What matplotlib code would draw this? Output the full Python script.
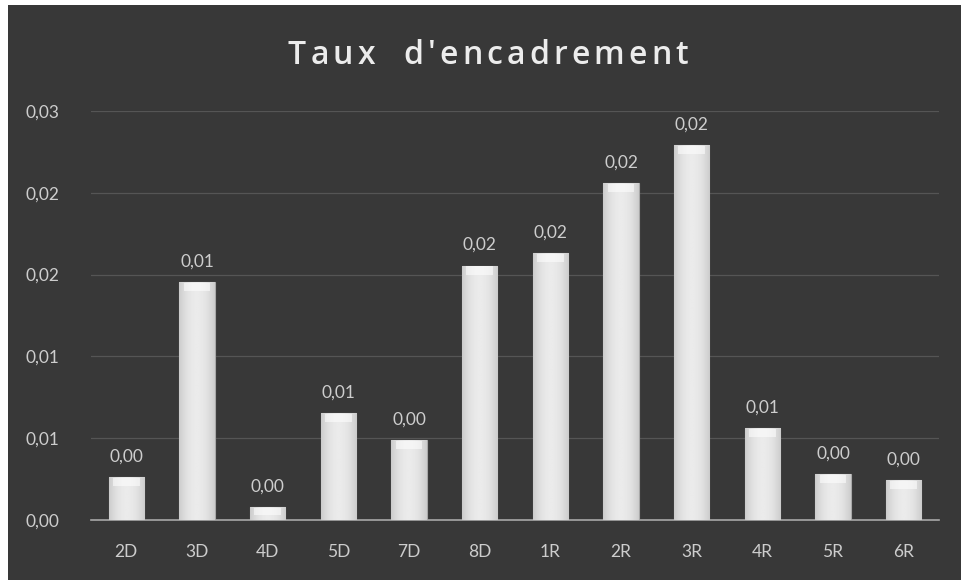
import matplotlib
matplotlib.use("Agg")
import matplotlib.pyplot as plt
import numpy as np
from matplotlib.patches import Rectangle

categories = ["2D", "3D", "4D", "5D", "7D", "8D", "1R", "2R", "3R", "4R", "5R", "6R"]
values = [0.00264, 0.01453, 0.00077, 0.00652, 0.00488, 0.01555, 0.0163, 0.0206, 0.0229, 0.00563, 0.00279, 0.00246]
value_labels = ["0,00", "0,01", "0,00", "0,01", "0,00", "0,02", "0,02", "0,02", "0,02", "0,01", "0,00", "0,00"]
y_ticks = [0.0, 0.005, 0.01, 0.015, 0.02, 0.025]
y_tick_labels = ["0,00", "0,01", "0,01", "0,02", "0,02", "0,03"]
title = "Taux d'encadrement"

BG = "#383838"
TXT = "#cdcdcd"
plt.rcParams["font.family"] = ["Lato", "DejaVu Sans"]

fig = plt.figure(figsize=(9.61, 5.8), dpi=100, facecolor=BG)
# thin white strip on left/top as in the scan
fig.patches.append(Rectangle((0, 0), 8 / 961, 1, transform=fig.transFigure,
                             facecolor="white", edgecolor="none", zorder=-10))
fig.patches.append(Rectangle((0, 1 - 5 / 580), 1, 5 / 580, transform=fig.transFigure,
                             facecolor="white", edgecolor="none", zorder=-10))

ax = fig.add_axes([91 / 961, 60 / 580, 848 / 961, 409 / 580])
ax.set_facecolor("none")

x = np.arange(len(categories))
bars = ax.bar(x, values, width=0.5, color="#dcdcdc", edgecolor="#a8a8a8", linewidth=0.8, zorder=3)

# horizontal shading on each bar
grad = np.linspace(-1, 1, 64)
shade = 0.80 + 0.12 * (1 - grad ** 2)
img = np.tile(shade, (2, 1))
for b in bars:
    x0, w, h = b.get_x(), b.get_width(), b.get_height()
    im = ax.imshow(img, cmap="gray", vmin=0, vmax=1, aspect="auto",
                   extent=(x0, x0 + w, 0, h), zorder=3.5, interpolation="bilinear")
    im.set_clip_path(b)
    # soft bright cap at the top
    cap_h = min(0.0005, h * 0.5)
    ax.add_patch(Rectangle((x0 + w * 0.12, h - cap_h - 0.00005), w * 0.76, cap_h, facecolor="white",
                           edgecolor="none", alpha=0.55, zorder=4))

for xi, v, lab in zip(x, values, value_labels):
    ax.annotate(lab, (xi, v), xytext=(0, 9), textcoords="offset points", ha="center", va="bottom",
                color=TXT, fontsize=12.5)

ax.set_xlim(-0.5, len(categories) - 0.5)
ax.set_ylim(0, 0.025)
ax.set_yticks(y_ticks)
ax.set_yticklabels(y_tick_labels)
ax.set_xticks(x)
ax.set_xticklabels(categories)
ax.tick_params(axis="both", length=0, colors=TXT, labelsize=12.5)
ax.tick_params(axis="y", pad=47.5)
ax.tick_params(axis="x", pad=17)
for lbl in ax.get_yticklabels():
    lbl.set_horizontalalignment("left")
ax.grid(axis="y", color="#555555", linewidth=0.9, zorder=0)
ax.set_axisbelow(True)
for s in ["top", "right", "left"]:
    ax.spines[s].set_visible(False)
ax.spines["bottom"].set_color("#a8a8a8")
ax.spines["bottom"].set_linewidth(1.2)

# letter-spaced title
renderer = fig.canvas.get_renderer()
tprops = dict(color="#ececec", fontsize=23, fontfamily=["Open Sans", "DejaVu Sans"],
              fontweight="semibold", va="center", ha="left")
widths = []
for ch in title:
    t = fig.text(0, 0, ch if ch != " " else "n", **tprops)
    widths.append(t.get_window_extent(renderer).width)
    t.remove()
target_w = 400.0
tracking = (target_w - sum(widths)) / (len(title) - 1)
xpos = 488 - target_w / 2
for ch, w in zip(title, widths):
    if ch != " ":
        fig.text(xpos / 961, 1 - 55 / 580, ch, **tprops)
    xpos += w + tracking

fig.savefig("out.png", dpi=100, facecolor=fig.get_facecolor())
